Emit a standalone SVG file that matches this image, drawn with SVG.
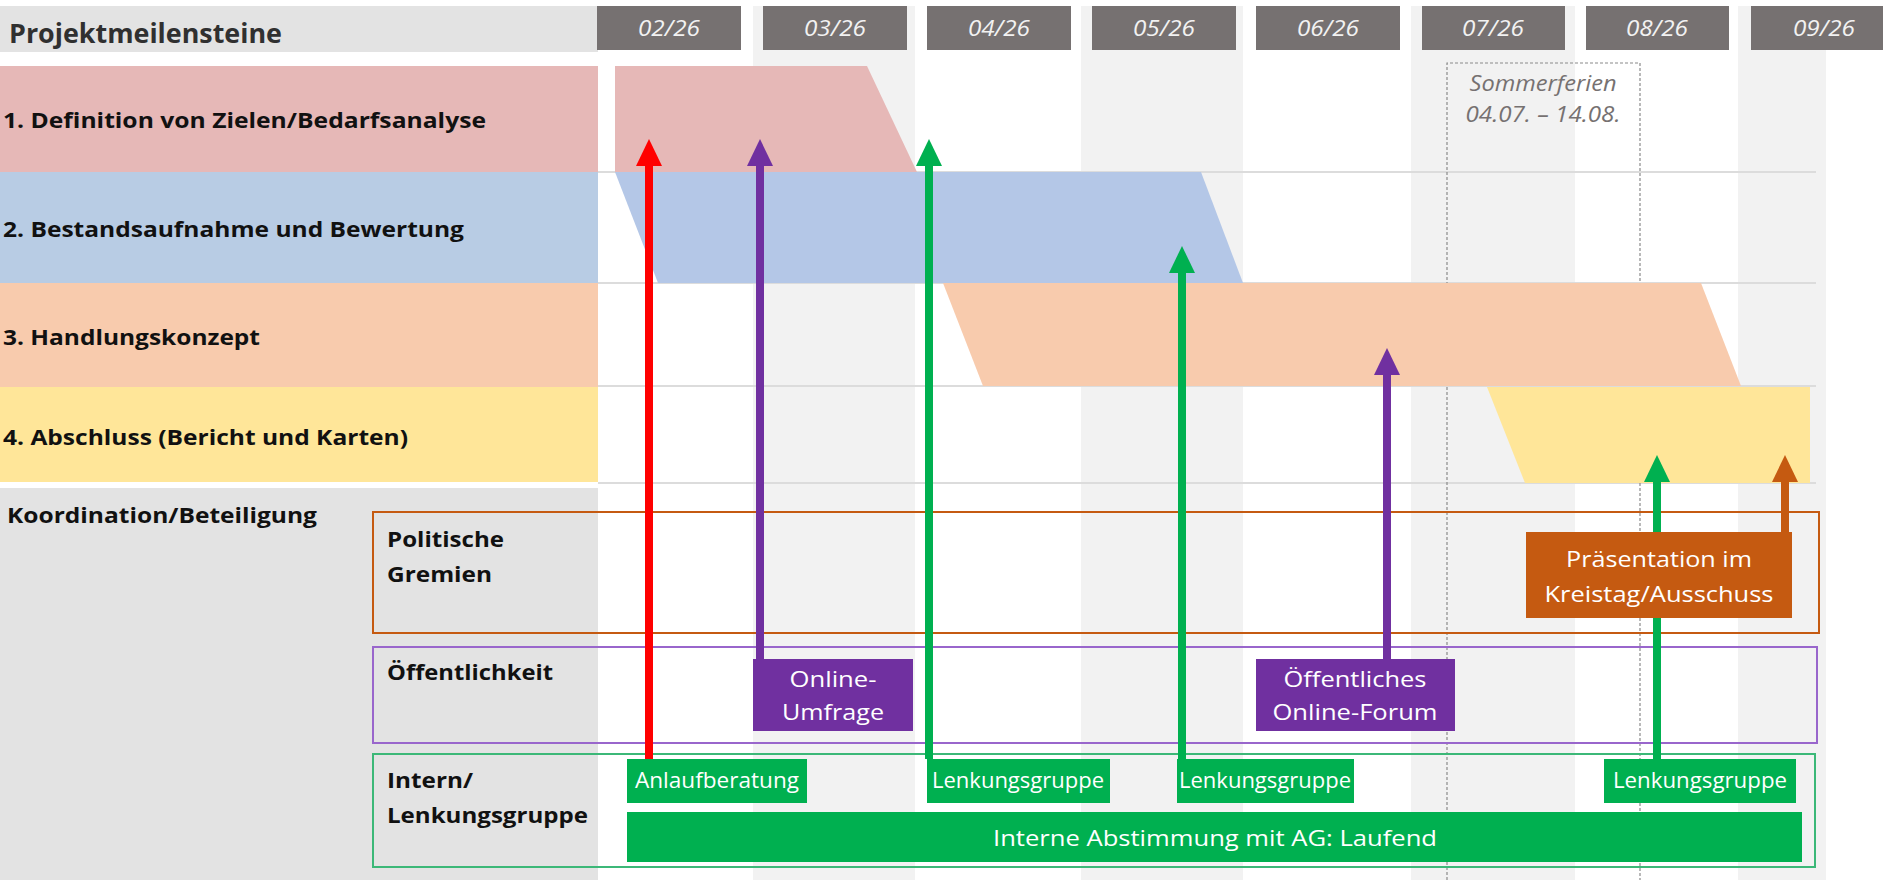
<svg xmlns="http://www.w3.org/2000/svg" width="1883" height="880" viewBox="0 0 1883 880">
<style>
text{font-family:"Open Sans","Liberation Sans",sans-serif}
.lbl{font-weight:bold;font-size:21px;fill:#111}
.mon{font-style:italic;font-size:21px;fill:#f2f2f2;text-anchor:middle}
.wt{font-size:21px;fill:#fff;text-anchor:middle}
.som{font-style:italic;font-size:21px;fill:#767171;text-anchor:middle}
.stripe{fill:#f2f2f2}
.mbox{fill:#767171}
.sep{stroke:#dcdcdc;stroke-width:2}
.arr{stroke-width:8;fill:none}
</style>
<defs>
<marker id="hRed" markerUnits="userSpaceOnUse" markerWidth="27" markerHeight="26" refX="0" refY="13" orient="auto"><path d="M0,0 L27,13 L0,26 z" fill="#ff0000"/></marker>
<marker id="hPur" markerUnits="userSpaceOnUse" markerWidth="27" markerHeight="26" refX="0" refY="13" orient="auto"><path d="M0,0 L27,13 L0,26 z" fill="#7030a0"/></marker>
<marker id="hGrn" markerUnits="userSpaceOnUse" markerWidth="27" markerHeight="26" refX="0" refY="13" orient="auto"><path d="M0,0 L27,13 L0,26 z" fill="#00b050"/></marker>
<marker id="hOra" markerUnits="userSpaceOnUse" markerWidth="27" markerHeight="26" refX="0" refY="13" orient="auto"><path d="M0,0 L27,13 L0,26 z" fill="#c55a11"/></marker>
</defs>
<rect width="1883" height="880" fill="#ffffff"/>

<g id="columns">
<rect class="stripe" x="753" y="6" width="162" height="874"/>
<rect class="stripe" x="1081" y="6" width="162" height="874"/>
<rect class="stripe" x="1411" y="6" width="164" height="874"/>
<rect class="stripe" x="1738" y="6" width="88" height="874"/>
</g>

<g id="header">
<rect x="0" y="6" width="598" height="46" fill="#e3e3e3"/>
<text x="9" y="43" font-size="26" font-weight="bold" fill="#303030" textLength="273" lengthAdjust="spacingAndGlyphs">Projektmeilensteine</text>
</g>

<g id="months">
<rect class="mbox" x="597" y="6" width="144" height="44"/><text class="mon" x="669" y="36" textLength="62" lengthAdjust="spacingAndGlyphs">02/26</text>
<rect class="mbox" x="763" y="6" width="144" height="44"/><text class="mon" x="835" y="36" textLength="62" lengthAdjust="spacingAndGlyphs">03/26</text>
<rect class="mbox" x="927" y="6" width="144" height="44"/><text class="mon" x="999" y="36" textLength="62" lengthAdjust="spacingAndGlyphs">04/26</text>
<rect class="mbox" x="1092" y="6" width="144" height="44"/><text class="mon" x="1164" y="36" textLength="62" lengthAdjust="spacingAndGlyphs">05/26</text>
<rect class="mbox" x="1256" y="6" width="144" height="44"/><text class="mon" x="1328" y="36" textLength="62" lengthAdjust="spacingAndGlyphs">06/26</text>
<rect class="mbox" x="1422" y="6" width="143" height="44"/><text class="mon" x="1493" y="36" textLength="62" lengthAdjust="spacingAndGlyphs">07/26</text>
<rect class="mbox" x="1586" y="6" width="143" height="44"/><text class="mon" x="1657" y="36" textLength="62" lengthAdjust="spacingAndGlyphs">08/26</text>
<rect class="mbox" x="1751" y="6" width="132" height="44"/><text class="mon" x="1824" y="36" textLength="62" lengthAdjust="spacingAndGlyphs">09/26</text>
</g>

<g id="separators">
<line class="sep" x1="598" y1="172" x2="1816" y2="172"/>
<line class="sep" x1="598" y1="283" x2="1816" y2="283"/>
<line class="sep" x1="598" y1="386" x2="1816" y2="386"/>
<line class="sep" x1="598" y1="483" x2="1816" y2="483"/>
</g>

<g id="sommerferien">
<path d="M1447,880 V63 H1640 V880" fill="none" stroke="#8a8a8a" stroke-width="1.2" stroke-dasharray="3,2"/>
<text class="som" x="1543" y="91" textLength="147" lengthAdjust="spacingAndGlyphs">Sommerferien</text>
<text class="som" x="1543" y="122" textLength="155" lengthAdjust="spacingAndGlyphs">04.07. – 14.08.</text>
</g>

<g id="phase1">
<rect x="0" y="66" width="598" height="106" fill="#e6b8b7"/>
<text class="lbl" x="3" y="128" textLength="483" lengthAdjust="spacingAndGlyphs">1. Definition von Zielen/Bedarfsanalyse</text>
<polygon points="615,66 867,66 917,172 615,172" fill="#e6b8b7"/>
</g>
<g id="phase2">
<rect x="0" y="172" width="598" height="111" fill="#b8cce4"/>
<text class="lbl" x="3" y="237" textLength="461" lengthAdjust="spacingAndGlyphs">2. Bestandsaufnahme und Bewertung</text>
<polygon points="615,172 1201,172 1243,283 658,283" fill="#b4c7e7"/>
</g>
<g id="phase3">
<rect x="0" y="283" width="598" height="104" fill="#f8cbad"/>
<text class="lbl" x="3" y="345" textLength="257" lengthAdjust="spacingAndGlyphs">3. Handlungskonzept</text>
<polygon points="943,283 1701,283 1741,386 983,386" fill="#f8cbad"/>
</g>
<g id="phase4">
<rect x="0" y="387" width="598" height="95" fill="#ffe699"/>
<text class="lbl" x="3" y="445" textLength="405" lengthAdjust="spacingAndGlyphs">4. Abschluss (Bericht und Karten)</text>
<polygon points="1487,387 1810,387 1810,483 1525,483" fill="#ffe699"/>
</g>

<g id="koordination">
<rect x="0" y="488" width="598" height="392" fill="#e3e3e3"/>
<text class="lbl" x="7" y="523" textLength="310" lengthAdjust="spacingAndGlyphs">Koordination/Beteiligung</text>
</g>

<g id="politische-gremien">
<rect x="373" y="512" width="1446" height="121" fill="none" stroke="#c55a11" stroke-width="2"/>
<text class="lbl" x="387" y="547" textLength="117" lengthAdjust="spacingAndGlyphs">Politische</text>
<text class="lbl" x="387" y="582" textLength="105" lengthAdjust="spacingAndGlyphs">Gremien</text>
</g>
<g id="oeffentlichkeit">
<rect x="373" y="647" width="1444" height="96" fill="none" stroke="#9966cc" stroke-width="2"/>
<text class="lbl" x="387" y="680" textLength="166" lengthAdjust="spacingAndGlyphs">Öffentlichkeit</text>
</g>
<g id="intern">
<rect x="373" y="754" width="1442" height="113" fill="none" stroke="#3cb878" stroke-width="2"/>
<text class="lbl" x="387" y="788" textLength="86" lengthAdjust="spacingAndGlyphs">Intern/</text>
<text class="lbl" x="387" y="823" textLength="201" lengthAdjust="spacingAndGlyphs">Lenkungsgruppe</text>
</g>

<g id="connectors">
<line class="arr" x1="649" y1="759" x2="649" y2="166" stroke="#ff0000" marker-end="url(#hRed)"/>
<line class="arr" x1="760" y1="659" x2="760" y2="166" stroke="#7030a0" marker-end="url(#hPur)"/>
<line class="arr" x1="929" y1="759" x2="929" y2="166" stroke="#00b050" marker-end="url(#hGrn)"/>
<line class="arr" x1="1182" y1="759" x2="1182" y2="273" stroke="#00b050" marker-end="url(#hGrn)"/>
<line class="arr" x1="1387" y1="659" x2="1387" y2="375" stroke="#7030a0" marker-end="url(#hPur)"/>
<line class="arr" x1="1657" y1="759" x2="1657" y2="482" stroke="#00b050" marker-end="url(#hGrn)"/>
<line class="arr" x1="1785" y1="532" x2="1785" y2="482" stroke="#c55a11" marker-end="url(#hOra)"/>
</g>

<g id="online-umfrage">
<rect x="753" y="659" width="160" height="72" fill="#7030a0"/>
<text class="wt" x="833" y="687" textLength="87" lengthAdjust="spacingAndGlyphs">Online-</text>
<text class="wt" x="833" y="720" textLength="102" lengthAdjust="spacingAndGlyphs">Umfrage</text>
</g>
<g id="online-forum">
<rect x="1256" y="659" width="199" height="72" fill="#7030a0"/>
<text class="wt" x="1355" y="687" textLength="143" lengthAdjust="spacingAndGlyphs">Öffentliches</text>
<text class="wt" x="1355" y="720" textLength="165" lengthAdjust="spacingAndGlyphs">Online-Forum</text>
</g>
<g id="praesentation">
<rect x="1526" y="532" width="266" height="86" fill="#c55a11"/>
<text class="wt" x="1659" y="567" textLength="186" lengthAdjust="spacingAndGlyphs">Präsentation im</text>
<text class="wt" x="1659" y="602" textLength="229" lengthAdjust="spacingAndGlyphs">Kreistag/Ausschuss</text>
</g>
<g id="anlaufberatung">
<rect x="627" y="759" width="180" height="44" fill="#00b050"/>
<text class="wt" x="717" y="788" textLength="164" lengthAdjust="spacingAndGlyphs">Anlaufberatung</text>
</g>
<g id="lenkungsgruppe-1">
<rect x="927" y="759" width="183" height="44" fill="#00b050"/>
<text class="wt" x="1018" y="788" textLength="172" lengthAdjust="spacingAndGlyphs">Lenkungsgruppe</text>
</g>
<g id="lenkungsgruppe-2">
<rect x="1177" y="759" width="177" height="44" fill="#00b050"/>
<text class="wt" x="1265" y="788" textLength="172" lengthAdjust="spacingAndGlyphs">Lenkungsgruppe</text>
</g>
<g id="lenkungsgruppe-3">
<rect x="1604" y="759" width="192" height="44" fill="#00b050"/>
<text class="wt" x="1700" y="788" textLength="174" lengthAdjust="spacingAndGlyphs">Lenkungsgruppe</text>
</g>
<g id="interne-abstimmung">
<rect x="627" y="812" width="1175" height="50" fill="#00b050"/>
<text class="wt" x="1215" y="846" font-size="25" textLength="444" lengthAdjust="spacingAndGlyphs">Interne Abstimmung mit AG: Laufend</text>
</g>
</svg>
